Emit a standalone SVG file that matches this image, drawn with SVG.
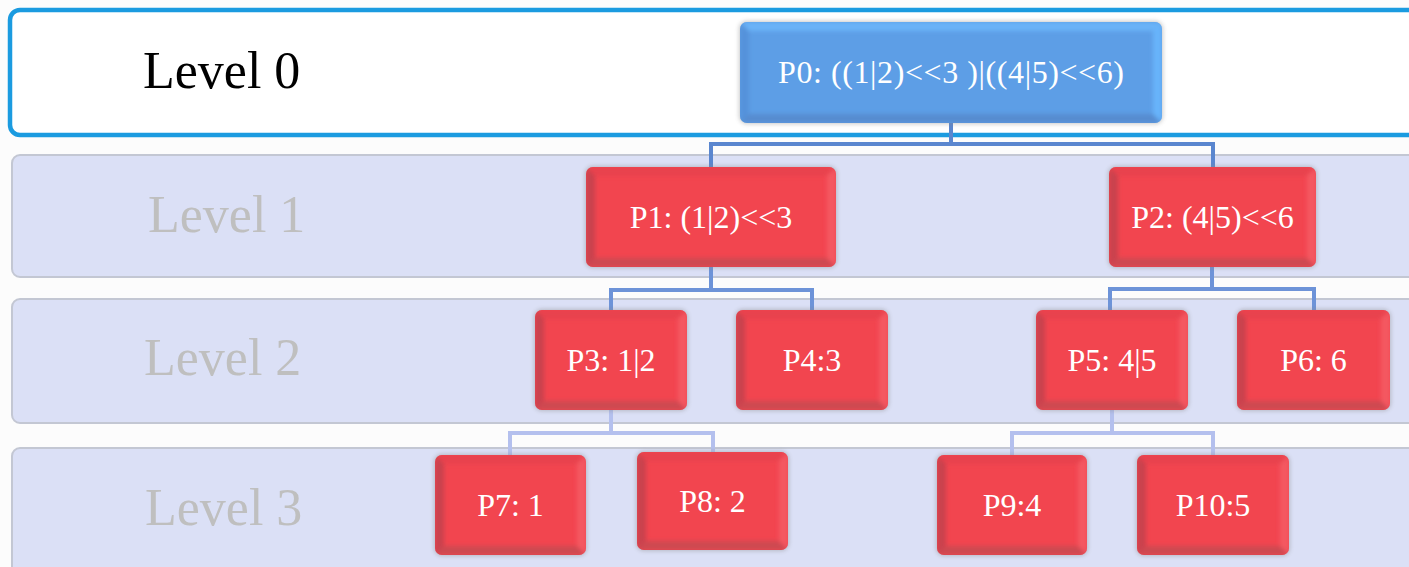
<svg xmlns="http://www.w3.org/2000/svg" width="1409" height="567" viewBox="0 0 1409 567">
  <style>
    .band { fill: #dbe0f6; stroke: #c3c7d3; stroke-width: 2; }
    .top-band { fill: #ffffff; stroke: #1b9be0; stroke-width: 4.5; }
    .lvl { font-family: "Liberation Serif", "DejaVu Serif", serif; font-size: 52px; fill: #bfbfbf; }
    .lvl0 { fill: #000000; }
    .lbl { font-family: "Liberation Serif", "DejaVu Serif", serif; font-size: 32px; fill: #ffffff; text-anchor: middle; }
    .red .f { fill: #f2454f; }
    .red .t { fill: #e8434d; }
    .red .l { fill: #c9434d; }
    .red .b { fill: #cd4851; }
    .red .r { fill: #f45862; }
    .blue .f { fill: #5d9ee6; }
    .blue .t { fill: #6bb3f8; }
    .blue .l { fill: #5592da; }
    .blue .b { fill: #568cd0; }
    .blue .r { fill: #68b4fb; }
    .bev { filter: url(#soft); }
    .shadow { fill: #8a8a8a; opacity: 0.45; filter: url(#glow); }
    .c0 { fill: none; stroke: #5a86cf; stroke-width: 4; }
    .c1 { fill: none; stroke: #6d93d8; stroke-width: 4; }
    .c2 { fill: none; stroke: #b4c0ee; stroke-width: 4; }
  </style>
  <defs>
    <filter id="soft" x="-5%" y="-5%" width="110%" height="110%">
      <feGaussianBlur stdDeviation="2"/>
    </filter>
    <filter id="glow" x="-10%" y="-10%" width="120%" height="120%">
      <feGaussianBlur stdDeviation="2"/>
    </filter>
    <clipPath id="k0"><rect x="740" y="22" width="422" height="101" rx="7"/></clipPath>
    <clipPath id="k1"><rect x="586" y="167" width="250" height="100" rx="7"/></clipPath>
    <clipPath id="k2"><rect x="1109" y="167" width="207" height="100" rx="7"/></clipPath>
    <clipPath id="k3"><rect x="535" y="310" width="152" height="100" rx="7"/></clipPath>
    <clipPath id="k4"><rect x="736" y="310" width="152" height="100" rx="7"/></clipPath>
    <clipPath id="k5"><rect x="1036" y="310" width="152" height="100" rx="7"/></clipPath>
    <clipPath id="k6"><rect x="1237" y="310" width="153" height="100" rx="7"/></clipPath>
    <clipPath id="k7"><rect x="435" y="455" width="151" height="100" rx="7"/></clipPath>
    <clipPath id="k8"><rect x="637" y="452" width="151" height="98" rx="7"/></clipPath>
    <clipPath id="k9"><rect x="937" y="455" width="150" height="100" rx="7"/></clipPath>
    <clipPath id="k10"><rect x="1137" y="455" width="152" height="100" rx="7"/></clipPath>
  </defs>

  <rect x="0" y="0" width="1409" height="567" fill="#fcfcfc"/>

  <!-- level bands -->
  <g id="bands">
    <rect class="top-band" x="10" y="10" width="1420" height="125" rx="10"/>
    <rect class="band" x="12" y="155" width="1420" height="122" rx="8"/>
    <rect class="band" x="12" y="299" width="1420" height="124" rx="8"/>
    <rect class="band" x="12" y="448" width="1420" height="140" rx="8"/>
    <text class="lvl lvl0" x="143" y="88">Level 0</text>
    <text class="lvl" x="148" y="232">Level 1</text>
    <text class="lvl" x="144" y="375">Level 2</text>
    <text class="lvl" x="145" y="525">Level 3</text>
  </g>

  <!-- connectors -->
  <g id="connectors">
    <path class="c0" d="M711,167 V144 H1213 V167 M951,123 V144"/>
    <path class="c1" d="M611,310 V290 H812 V310 M711,267 V290"/>
    <path class="c1" d="M1110,310 V289 H1314 V310 M1212,267 V289"/>
    <path class="c2" d="M510,455 V433 H713 V452 M611,410 V433"/>
    <path class="c2" d="M1012,455 V433 H1213 V455 M1112,410 V433"/>
  </g>

  <!-- nodes -->
  <g id="p0" class="blue">
    <rect class="shadow" x="739" y="21" width="424" height="103" rx="8"/>
    <g clip-path="url(#k0)">
      <rect class="f" x="740" y="22" width="422" height="101"/>
      <g class="bev">
        <polygon class="t" points="740,22 1162,22 1153,31 749,31"/>
        <polygon class="l" points="740,22 749,31 749,114 740,123"/>
        <polygon class="b" points="740,123 749,114 1153,114 1162,123"/>
        <polygon class="r" points="1162,22 1162,123 1153,114 1153,31"/>
      </g>
    </g>
    <text class="lbl" x="951" y="83" textLength="346" lengthAdjust="spacing">P0: ((1|2)&lt;&lt;3 )|((4|5)&lt;&lt;6)</text>
  </g>

  <g id="p1" class="red">
    <rect class="shadow" x="585" y="166" width="252" height="102" rx="8"/>
    <g clip-path="url(#k1)">
      <rect class="f" x="586" y="167" width="250" height="100"/>
      <g class="bev">
        <polygon class="t" points="586,167 836,167 827,176 595,176"/>
        <polygon class="l" points="586,167 595,176 595,258 586,267"/>
        <polygon class="b" points="586,267 595,258 827,258 836,267"/>
        <polygon class="r" points="836,167 836,267 827,258 827,176"/>
      </g>
    </g>
    <text class="lbl" x="711" y="228">P1: (1|2)&lt;&lt;3</text>
  </g>

  <g id="p2" class="red">
    <rect class="shadow" x="1108" y="166" width="209" height="102" rx="8"/>
    <g clip-path="url(#k2)">
      <rect class="f" x="1109" y="167" width="207" height="100"/>
      <g class="bev">
        <polygon class="t" points="1109,167 1316,167 1307,176 1118,176"/>
        <polygon class="l" points="1109,167 1118,176 1118,258 1109,267"/>
        <polygon class="b" points="1109,267 1118,258 1307,258 1316,267"/>
        <polygon class="r" points="1316,167 1316,267 1307,258 1307,176"/>
      </g>
    </g>
    <text class="lbl" x="1212.5" y="228">P2: (4|5)&lt;&lt;6</text>
  </g>

  <g id="p3" class="red">
    <rect class="shadow" x="534" y="309" width="154" height="102" rx="8"/>
    <g clip-path="url(#k3)">
      <rect class="f" x="535" y="310" width="152" height="100"/>
      <g class="bev">
        <polygon class="t" points="535,310 687,310 678,319 544,319"/>
        <polygon class="l" points="535,310 544,319 544,401 535,410"/>
        <polygon class="b" points="535,410 544,401 678,401 687,410"/>
        <polygon class="r" points="687,310 687,410 678,401 678,319"/>
      </g>
    </g>
    <text class="lbl" x="611" y="371">P3: 1|2</text>
  </g>

  <g id="p4" class="red">
    <rect class="shadow" x="735" y="309" width="154" height="102" rx="8"/>
    <g clip-path="url(#k4)">
      <rect class="f" x="736" y="310" width="152" height="100"/>
      <g class="bev">
        <polygon class="t" points="736,310 888,310 879,319 745,319"/>
        <polygon class="l" points="736,310 745,319 745,401 736,410"/>
        <polygon class="b" points="736,410 745,401 879,401 888,410"/>
        <polygon class="r" points="888,310 888,410 879,401 879,319"/>
      </g>
    </g>
    <text class="lbl" x="812" y="371">P4:3</text>
  </g>

  <g id="p5" class="red">
    <rect class="shadow" x="1035" y="309" width="154" height="102" rx="8"/>
    <g clip-path="url(#k5)">
      <rect class="f" x="1036" y="310" width="152" height="100"/>
      <g class="bev">
        <polygon class="t" points="1036,310 1188,310 1179,319 1045,319"/>
        <polygon class="l" points="1036,310 1045,319 1045,401 1036,410"/>
        <polygon class="b" points="1036,410 1045,401 1179,401 1188,410"/>
        <polygon class="r" points="1188,310 1188,410 1179,401 1179,319"/>
      </g>
    </g>
    <text class="lbl" x="1112" y="371">P5: 4|5</text>
  </g>

  <g id="p6" class="red">
    <rect class="shadow" x="1236" y="309" width="155" height="102" rx="8"/>
    <g clip-path="url(#k6)">
      <rect class="f" x="1237" y="310" width="153" height="100"/>
      <g class="bev">
        <polygon class="t" points="1237,310 1390,310 1381,319 1246,319"/>
        <polygon class="l" points="1237,310 1246,319 1246,401 1237,410"/>
        <polygon class="b" points="1237,410 1246,401 1381,401 1390,410"/>
        <polygon class="r" points="1390,310 1390,410 1381,401 1381,319"/>
      </g>
    </g>
    <text class="lbl" x="1313.5" y="371">P6: 6</text>
  </g>

  <g id="p7" class="red">
    <rect class="shadow" x="434" y="454" width="153" height="102" rx="8"/>
    <g clip-path="url(#k7)">
      <rect class="f" x="435" y="455" width="151" height="100"/>
      <g class="bev">
        <polygon class="t" points="435,455 586,455 577,464 444,464"/>
        <polygon class="l" points="435,455 444,464 444,546 435,555"/>
        <polygon class="b" points="435,555 444,546 577,546 586,555"/>
        <polygon class="r" points="586,455 586,555 577,546 577,464"/>
      </g>
    </g>
    <text class="lbl" x="510.5" y="516">P7: 1</text>
  </g>

  <g id="p8" class="red">
    <rect class="shadow" x="636" y="451" width="153" height="100" rx="8"/>
    <g clip-path="url(#k8)">
      <rect class="f" x="637" y="452" width="151" height="98"/>
      <g class="bev">
        <polygon class="t" points="637,452 788,452 779,461 646,461"/>
        <polygon class="l" points="637,452 646,461 646,541 637,550"/>
        <polygon class="b" points="637,550 646,541 779,541 788,550"/>
        <polygon class="r" points="788,452 788,550 779,541 779,461"/>
      </g>
    </g>
    <text class="lbl" x="712.5" y="512">P8: 2</text>
  </g>

  <g id="p9" class="red">
    <rect class="shadow" x="936" y="454" width="152" height="102" rx="8"/>
    <g clip-path="url(#k9)">
      <rect class="f" x="937" y="455" width="150" height="100"/>
      <g class="bev">
        <polygon class="t" points="937,455 1087,455 1078,464 946,464"/>
        <polygon class="l" points="937,455 946,464 946,546 937,555"/>
        <polygon class="b" points="937,555 946,546 1078,546 1087,555"/>
        <polygon class="r" points="1087,455 1087,555 1078,546 1078,464"/>
      </g>
    </g>
    <text class="lbl" x="1012" y="516">P9:4</text>
  </g>

  <g id="p10" class="red">
    <rect class="shadow" x="1136" y="454" width="154" height="102" rx="8"/>
    <g clip-path="url(#k10)">
      <rect class="f" x="1137" y="455" width="152" height="100"/>
      <g class="bev">
        <polygon class="t" points="1137,455 1289,455 1280,464 1146,464"/>
        <polygon class="l" points="1137,455 1146,464 1146,546 1137,555"/>
        <polygon class="b" points="1137,555 1146,546 1280,546 1289,555"/>
        <polygon class="r" points="1289,455 1289,555 1280,546 1280,464"/>
      </g>
    </g>
    <text class="lbl" x="1213" y="516">P10:5</text>
  </g>
</svg>
